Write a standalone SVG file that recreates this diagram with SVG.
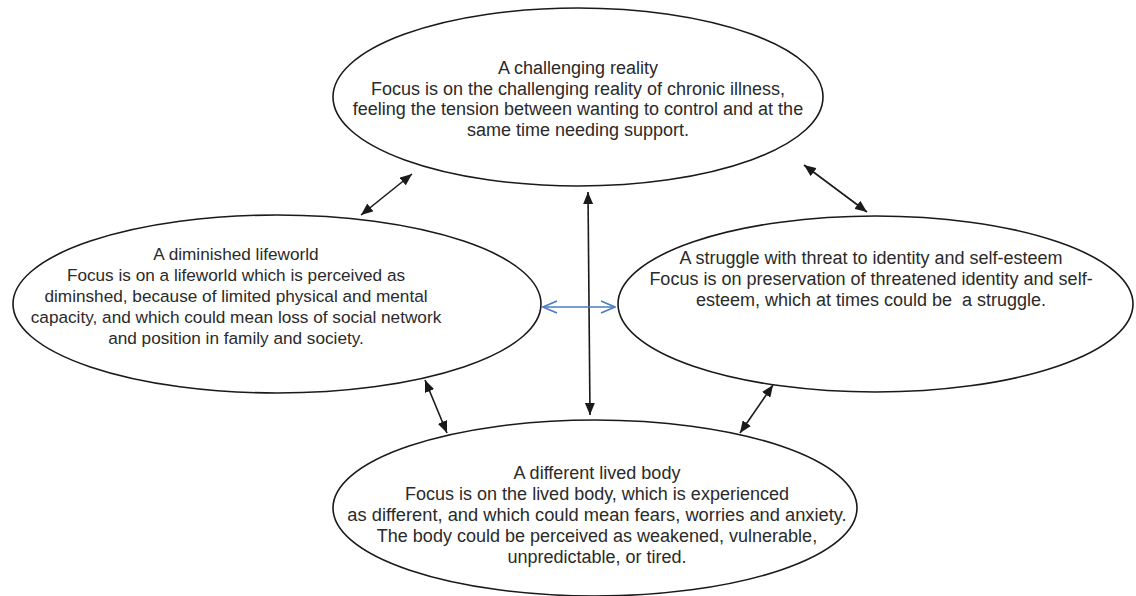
<svg xmlns="http://www.w3.org/2000/svg" width="1136" height="596" viewBox="0 0 1136 596">
<style>
.node ellipse{fill:#fff;stroke:#1a1a1a;stroke-width:1.6}
.node text{font-family:"Liberation Sans",Arial,sans-serif;font-size:18px;fill:#2a2a2a;text-anchor:middle}
#left text{font-size:17.2px}
.conn line{stroke:#1a1a1a;stroke-width:1.6}
.conn line.blue{stroke:#4a7ebf;stroke-width:1.6}
</style>
<defs>
<marker id="ah" viewBox="0 0 12 10" refX="12" refY="5" markerWidth="12" markerHeight="10" markerUnits="userSpaceOnUse" orient="auto-start-reverse">
<path d="M0,0 L12,5 L0,10 z" fill="#1a1a1a"/>
</marker>
<marker id="bh" viewBox="0 0 16 14" refX="15" refY="7" markerWidth="16" markerHeight="14" markerUnits="userSpaceOnUse" orient="auto-start-reverse">
<path d="M1,1 L15,7 L1,13" fill="none" stroke="#4a7ebf" stroke-width="1.6"/>
</marker>
</defs>
<rect width="1136" height="596" fill="#fff"/>
<g id="top" class="node">
<ellipse cx="578" cy="97" rx="245" ry="89"/>
<text x="578" y="74">A challenging reality</text>
<text x="578" y="94.5">Focus is on the challenging reality of chronic illness,</text>
<text x="578" y="115">feeling the tension between wanting to control and at the</text>
<text x="578" y="135.5">same time needing support.</text>
</g>
<g id="left" class="node">
<ellipse cx="277" cy="304" rx="264" ry="89"/>
<text x="236" y="260">A diminished lifeworld</text>
<text x="236" y="281">Focus is on a lifeworld which is perceived as</text>
<text x="236" y="302">diminshed, because of limited physical and mental</text>
<text x="236" y="323">capacity, and which could mean loss of social network</text>
<text x="236" y="344">and position in family and society.</text>
</g>
<g id="right" class="node">
<ellipse cx="875.5" cy="304" rx="257.5" ry="88"/>
<text x="871" y="264">A struggle with threat to identity and self-esteem</text>
<text x="871" y="285">Focus is on preservation of threatened identity and self-</text>
<text x="871" y="306">esteem, which at times could be&#160; a struggle.</text>
</g>
<g id="bottom" class="node">
<ellipse cx="595" cy="508" rx="262" ry="88"/>
<text x="597" y="479">A different lived body</text>
<text x="597" y="500">Focus is on the lived body, which is experienced</text>
<text x="597" y="521" style="font-size:18.3px">as different, and which could mean fears, worries and anxiety.</text>
<text x="597" y="542">The body could be perceived as weakened, vulnerable,</text>
<text x="597" y="563">unpredictable, or tired.</text>
</g>
<g id="connectors" class="conn">
<line x1="412" y1="174" x2="361" y2="215" marker-start="url(#ah)" marker-end="url(#ah)"/>
<line x1="804" y1="165" x2="867" y2="212" marker-start="url(#ah)" marker-end="url(#ah)"/>
<line x1="588" y1="192" x2="590" y2="415" marker-start="url(#ah)" marker-end="url(#ah)"/>
<line x1="425" y1="380" x2="447" y2="433" marker-start="url(#ah)" marker-end="url(#ah)"/>
<line x1="773" y1="385" x2="740" y2="433" marker-start="url(#ah)" marker-end="url(#ah)"/>
<line class="blue" x1="543" y1="307" x2="615" y2="307" marker-start="url(#bh)" marker-end="url(#bh)"/>
</g>
</svg>
